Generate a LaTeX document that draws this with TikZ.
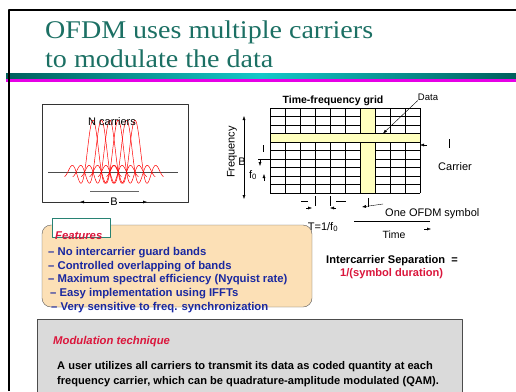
\documentclass[tikz,border=0pt]{standalone}
\usepackage{fontspec}
\setmainfont{Liberation Sans}
\newfontfamily\titlefont[FakeStretch=1.1]{Liberation Serif}
\usepackage{tikz}
\usetikzlibrary{arrows.meta}

\definecolor{titleteal}{RGB}{28,112,100}
\definecolor{bardark}{RGB}{0,96,92}
\definecolor{barlight}{RGB}{20,200,200}
\definecolor{barpink}{RGB}{230,0,230}
\definecolor{gridyellow}{RGB}{255,255,190}
\definecolor{featpeach}{RGB}{252,224,182}
\definecolor{featred}{RGB}{218,22,60}
\definecolor{featblue}{RGB}{26,40,160}
\definecolor{boxgray}{RGB}{218,218,218}
\definecolor{tealedge}{RGB}{40,130,115}

\begin{document}
\begin{tikzpicture}[x=1pt, y=-1pt, line join=round,
  lbl/.style={inner sep=0, font=\fontsize{11}{13}\selectfont},
  bullet/.style={anchor=west, inner sep=0, featblue, font=\bfseries\fontsize{11.3}{13}\selectfont},
  bodytext/.style={anchor=west, inner sep=0, font=\bfseries\fontsize{11.1}{13}\selectfont},
  headtext/.style={anchor=west, inner sep=0, featred, font=\bfseries\itshape\fontsize{11.3}{13}\selectfont},
  tip/.style={-{Latex[length=4pt, width=3pt]}}]

\useasboundingbox (0,0) rectangle (516,391);

% title and bars
\node (title1) at (45,38.7) [anchor=base west, inner sep=0, titleteal, font=\titlefont\fontsize{25.5}{29}\selectfont] {OFDM uses multiple carriers};
\node (title2) at (45,67.7) [anchor=base west, inner sep=0, titleteal, font=\titlefont\fontsize{25.5}{29}\selectfont] {to modulate the data};

\shade[left color=bardark, right color=bardark, middle color=barlight] (6,73) rectangle (516,78.5);
\fill[barpink] (6,79) rectangle (516,82);

\draw[line width=1.5pt] (9,391) -- (9,10) -- (516,10);

% carriers
\draw[black!80] (42,104) rectangle (188,202);
\draw[black!70] (48,172) -- (178,172);
\foreach \k in {0,...,5}
  \draw[red, line width=0.5pt, domain=-3.4:3.4, samples=60, smooth]
    plot ({93+8.4*\k+8.4*\x}, {172-52*sin(180*\x)/(pi*\x)});
\node (ncarr) at (112,122) [lbl] {N carriers};
\draw[black!60] (90,191) -- (139,191);
\node (bw) at (114,202) [lbl, fill=white, inner sep=1pt] {B};
\coordinate (bleft) at (80,202);
\coordinate (bright) at (147,202);
\draw[tip] (bw.west) -- (bleft);
\draw[tip] (bw.east) -- (bright);

% time-frequency grid
\foreach \i in {0,...,10}
  \draw (270+15*\i,108) -- (270+15*\i,193);
\foreach \j in {0,...,10}
  \draw (270,108+8.5*\j) -- (420,108+8.5*\j);
\draw[fill=gridyellow] (360,108) rectangle (375,193);
\draw[fill=gridyellow] (270,133.5) rectangle (420,142);

\node (tfgrid) at (333,101) [lbl, font=\bfseries\fontsize{10.5}{12}\selectfont] {Time-frequency grid};
\node (data) at (428,97) [lbl, font=\fontsize{9.5}{11}\selectfont] {Data};
\coordinate (datapt) at (383,133.5);
\draw[tip] (data.south west) -- (datapt);

\draw[{Latex[length=4pt, width=3pt]}-{Latex[length=4pt, width=3pt]}] (244,116) -- (244,199);
\node (freq) at (232,152) [lbl, rotate=90] {Frequency};
\node (bfreq) at (242,162) [lbl] {B};
\node (fzero) at (253,175) [lbl] {f\textsubscript{0}};
\draw (263,145) -- (263,152);
\draw (258,159) -- (270,159);
\draw[tip] (260,160) -- (260,166);
\draw[tip] (264,181) -- (264,174);

\node (carrier) at (455,167) [lbl] {Carrier};
\draw (449,139) -- (449,148);
\draw[tip] (427,145) -- (420,145);

% symbol period
\draw (301,201) -- (308,201);
\draw (336,201) -- (346,201);
\draw (315,196) -- (315,206);
\draw (330,196) -- (330,206);
\draw[tip] (306,208) -- (312,208);
\draw[tip] (336,208) -- (330,208);
\node (tperiod) at (323,227) [lbl] {T=1/f\textsubscript{0}};

\draw (368,198) -- (368,207);
\draw[tip] (383,204) -- (362,207);
\node (ofdmsym) at (385,214) [lbl, anchor=west] {One OFDM symbol};
\draw (354,221) -- (430,221);
\node (time) at (394,235) [lbl, font=\fontsize{10.5}{12}\selectfont] {Time};
\draw[tip] (424,229) -- (431,229);

% features
\draw[black!65, fill=featpeach, rounded corners=9pt] (42,225) rectangle (312,307);
\draw[tealedge, fill=white] (52,218) rectangle (110,237);
\node (feat) at (55,236) [headtext] {Features};
\node (b1) at (48,253) [bullet] {-- No intercarrier guard bands};
\node (b2) at (48,267) [bullet] {-- Controlled overlapping of bands};
\node (b3) at (48,280) [bullet] {-- Maximum spectral efficiency (Nyquist rate)};
\node (b4) at (50,294) [bullet] {-- Easy implementation using IFFTs};
\node (b5) at (51,308) [bullet] {-- Very sensitive to freq. synchronization};

\node (sep) at (326,261) [bodytext] {Intercarrier Separation \ =};
\node (sepval) at (340,274) [bodytext, featred] {1/(symbol duration)};

% modulation technique
\draw[black!70, fill=boxgray] (37,319) rectangle (462,395);
\node (modhead) at (53,342) [headtext] {Modulation technique};
\node (mod1) at (57,367) [bodytext] {A user utilizes all carriers to transmit its data as coded quantity at each};
\node (mod2) at (57,382) [bodytext] {frequency carrier, which can be quadrature-amplitude modulated (QAM).};

\end{tikzpicture}
\end{document}
